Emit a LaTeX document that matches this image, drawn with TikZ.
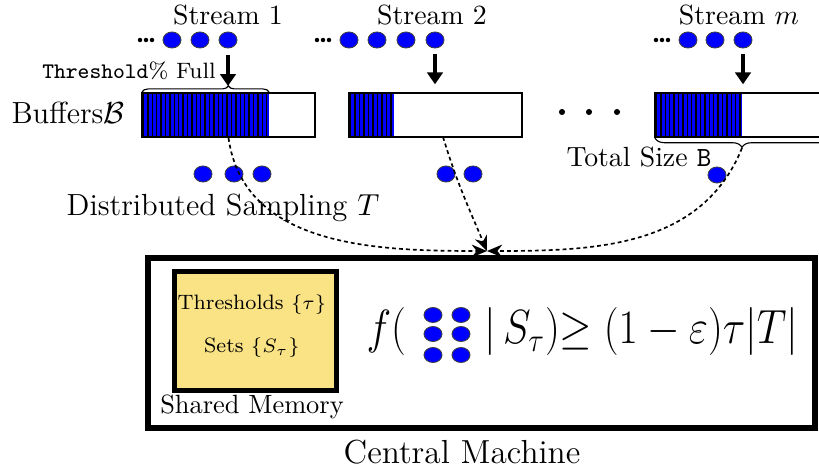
\documentclass[tikz,border=0pt]{standalone}
\usetikzlibrary{arrows.meta,shapes.geometric,decorations.pathreplacing}
\definecolor{memyellow}{RGB}{249,227,133}
\begin{document}
\begin{tikzpicture}[x=0.36pt,y=0.36pt,
    dot/.style={ellipse,fill=blue,draw=black!75,line width=0.3pt,minimum width=6.5pt,minimum height=5.8pt,inner sep=0pt},
    buffer/.style={draw,line width=0.7pt,minimum width=62.6pt,minimum height=15.8pt,inner sep=0pt},
    feed/.style={line width=1.1pt,-{Triangle[length=4.3pt,width=5.6pt]}},
    flow/.style={line width=0.6pt,dash pattern=on 1.4pt off 1.1pt,-{Stealth[length=5.5pt,width=4.6pt]}},
    stripes/.style={line width=0.5pt}]
  \useasboundingbox (0,0) rectangle (819,-467);
  \node (st1) at (228,-15) {Stream 1};
  \node (st2) at (432,-15) {Stream 2};
  \node (stm) at (739,-15) {Stream $m$};
  \foreach \x in {140,146,152} \fill (\x,-40) circle (0.8pt);
  \foreach \x in {317,323,329} \fill (\x,-40) circle (0.8pt);
  \foreach \x in {656,662,668} \fill (\x,-40) circle (0.8pt);
  \node[dot] (s1a) at (172,-40) {};
  \node[dot] (s1b) at (200,-40) {};
  \node[dot] (s1c) at (228,-40) {};
  \node[dot] (s2a) at (349,-40) {};
  \node[dot] (s2b) at (377,-40) {};
  \node[dot] (s2c) at (406,-40) {};
  \node[dot] (s2d) at (435,-40) {};
  \node[dot] (sma) at (688,-40) {};
  \node[dot] (smb) at (715,-40) {};
  \node[dot] (smc) at (743,-40) {};
  \fill[blue] (142,-93) rectangle (269,-137);
  \foreach \i in {0,...,28} \draw[stripes] (143.5+4.4*\i,-93) -- (143.5+4.4*\i,-137);
  \fill[blue] (349,-93) rectangle (394,-137);
  \foreach \i in {0,...,9} \draw[stripes] (350.5+4.5*\i,-93) -- (350.5+4.5*\i,-137);
  \fill[blue] (655,-93) rectangle (742,-137);
  \foreach \i in {0,...,19} \draw[stripes] (656.5+4.4*\i,-93) -- (656.5+4.4*\i,-137);
  \node[buffer] (buf1) at (228.5,-115) {};
  \node[buffer] (buf2) at (435.5,-115) {};
  \node[buffer] (bufm) at (742,-115) {};
  \foreach \x in {562,589,617} \fill (\x,-112) circle (1.1pt);
  \node (bufname) at (68,-113) {\fontsize{11}{13}\selectfont Buffers$\mathcal{B}$};
  \draw[decorate,decoration={brace,amplitude=2.2pt,aspect=0.68}] (142,-92) -- (269,-92);
  \node (thr) at (129,-71) {\footnotesize\texttt{Threshold}\% Full};
  \draw[decorate,decoration={brace,amplitude=3.4pt}] (829,-138) -- (655,-138);
  \coordinate (tipm) at (742,-148);
  \node (total) at (639,-157) {Total Size \texttt{B}};
  \draw[feed,shorten <=5.4pt,shorten >=2.2pt] (s1c.center) -- (s1c |- buf1.north);
  \draw[feed,shorten <=5pt,shorten >=2.8pt] (s2d.center) -- (s2d |- buf2.north);
  \draw[feed,shorten <=5pt,shorten >=2.8pt] (smc.center) -- (smc |- bufm.north);
  \node[dot] (t1a) at (203,-174) {};
  \node[dot] (t1b) at (234,-174) {};
  \node[dot] (t1c) at (262,-174) {};
  \node[dot] (t2a) at (446,-174) {};
  \node[dot] (t2b) at (473,-174) {};
  \node[dot] (tma) at (717,-175) {};
  \node (samp) at (223,-208) {\fontsize{11}{13}\selectfont Distributed Sampling $T$};
  \node[draw,line width=2.2pt,minimum width=240.1pt,minimum height=61.2pt,inner sep=0pt] (central) at (481.5,-343) {};
  \coordinate (in) at (487,-251);
  \coordinate (b2out) at (443,-137);
  \draw[flow] (buf1.south) to[out=-82,in=180] (in);
  \draw[flow] (b2out) to[out=-73,in=113] (in);
  \draw[flow] (tipm) to[out=-112,in=0] (in);
  \node[draw,line width=1.8pt,fill=memyellow,minimum width=58pt,minimum height=42.5pt,inner sep=0pt] (mem) at (255.5,-331) {};
  \node (thresh) at (252,-305) {\fontsize{7.5}{9}\selectfont Thresholds $\{\tau\}$};
  \node (sets) at (252,-348) {\fontsize{7.5}{9}\selectfont Sets $\{S_\tau\}$};
  \node (memname) at (252,-407) {\fontsize{9.5}{11}\selectfont Shared Memory};
  \node[anchor=base west,inner sep=0pt] (fopen) at (366,-344) {\LARGE\scalebox{0.87}[1]{$f($}};
  \node[dot,minimum height=5.4pt] (f1) at (433,-315) {};
  \node[dot,minimum height=5.4pt] (f2) at (461,-315) {};
  \node[dot,minimum height=5.4pt] (f3) at (433,-334) {};
  \node[dot,minimum height=5.4pt] (f4) at (461,-334) {};
  \node[dot,minimum height=5.4pt] (f5) at (433,-355) {};
  \node[dot,minimum height=5.4pt] (f6) at (461,-355) {};
  \node[anchor=base west,inner sep=0pt] (frest) at (484,-344) {\LARGE\scalebox{0.87}[1]{$|\,S_\tau){\geq}\;(1-\varepsilon)\tau|T|$}};
  \node (cname) at (462,-452) {\large Central Machine};
\end{tikzpicture}
\end{document}
